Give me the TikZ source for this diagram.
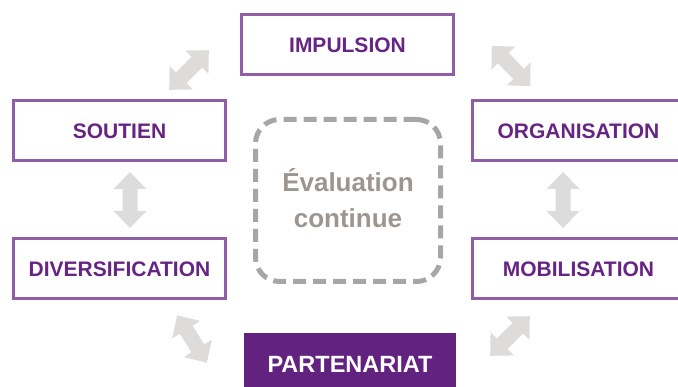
\documentclass[tikz,border=0pt]{standalone}
\usepackage{fontspec}
\setmainfont{Liberation Sans}
\usepackage{tikz}
\usetikzlibrary{positioning}
\usepackage{color}

\definecolor{boxline}{RGB}{144,94,166}
\definecolor{labelpurple}{RGB}{102,36,131}
\definecolor{partfill}{RGB}{98,34,127}
\definecolor{arrowgray}{RGB}{221,220,218}
\definecolor{dashgray}{RGB}{166,166,166}
\definecolor{evaltext}{RGB}{157,149,143}

\tikzset{
  stagebox/.style={draw=boxline, line width=3pt, fill=white, minimum width=212pt,
    minimum height=60pt, inner sep=0pt, text=labelpurple,
    font=\fontsize{21}{25}\selectfont\bfseries},
  keybox/.style={stagebox, draw=none, fill=partfill, text=white,
    minimum height=62pt, font=\fontsize{23.5}{28}\selectfont\bfseries},
  evalbox/.style={draw=dashgray, line width=5pt, dash pattern=on 13pt off 7pt,
    rounded corners=24pt, minimum width=185pt, minimum height=162pt, align=center,
    text=evaltext, font=\fontsize{26}{36}\selectfont\bfseries},
  dblarrow/.pic={\fill[arrowgray] (-28,0) -- (-11,16.5) -- (-11,7.5) -- (11,7.5)
    -- (11,16.5) -- (28,0) -- (11,-16.5) -- (11,-7.5) -- (-11,-7.5) -- (-11,-16.5) -- cycle;}
}

\begin{document}
\begin{tikzpicture}[x=1pt, y=-1pt]
\useasboundingbox (0,0) rectangle (678,387);
\clip (0,0) rectangle (678,387);

\node[stagebox] (impulsion) at (347.5,45) {IMPULSION};
\node[stagebox] (soutien) at (119.5,131) {SOUTIEN};
\node[stagebox] (diversification) at (119.5,269) {DIVERSIFICATION};
\node[stagebox] (organisation) at (578.5,131) {ORGANISATION};
\node[stagebox] (mobilisation) at (578.5,269) {MOBILISATION};
\node[keybox] (partenariat) at (350,364) {PARTENARIAT};
\node[evalbox] (evaluation) at (348,200.5) {};
\node[text=evaltext, align=center, font=\fontsize{26}{36}\selectfont\bfseries]
  (evallabel) at ([yshift=2.5pt]evaluation.center) {Évaluation\\continue};

% arrows between the stages
\pic[rotate=45] at (189,70) {dblarrow};
\pic[rotate=-46] at (511,66) {dblarrow};
\pic[rotate=90] at (130,200) {dblarrow};
\pic[rotate=90] at (563,200) {dblarrow};
\pic[rotate=-58] at (192,339) {dblarrow};
\pic[rotate=45] at (510,336) {dblarrow};
\end{tikzpicture}
\end{document}
